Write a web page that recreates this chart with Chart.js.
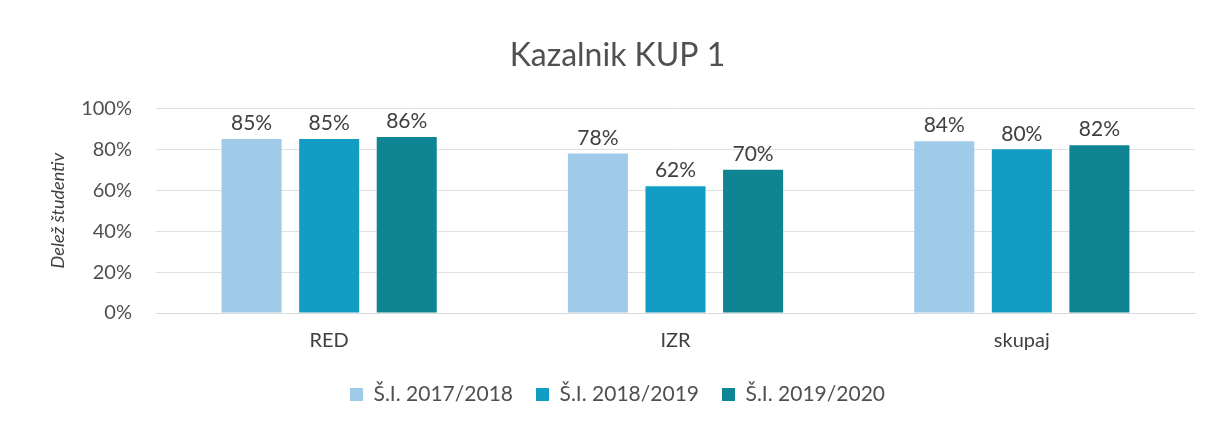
<!DOCTYPE html>
<html>
<head>
<meta charset="utf-8">
<script src="https://cdn.jsdelivr.net/npm/chart.js@4"></script>
<style>
html,body{margin:0;padding:0;background:#fff;}
#wrap{position:relative;width:1213px;height:425px;}
</style>
</head>
<body>
<div id="wrap"><canvas id="c" width="1213" height="425"></canvas></div>
<script>
const categories = ["RED", "IZR", "skupaj"];
const seriesNames = ["Š.I. 2017/2018", "Š.I. 2018/2019", "Š.I. 2019/2020"];
const s2017 = [85, 78, 84];
const s2018 = [85, 62, 80];
const s2019 = [86, 70, 82];
const yTicks = [0, 20, 40, 60, 80, 100];
const colors = ["#9fcbe8", "#119dc4", "#0f8492"];

const FONT = "Lato, 'Open Sans', sans-serif";

const labelPlugin = {
  id: 'valLabels',
  afterDatasetsDraw(chart) {
    const ctx = chart.ctx;
    ctx.save();
    ctx.font = "21px " + FONT;
    ctx.fillStyle = "#404040";
    ctx.textAlign = "center";
    ctx.textBaseline = "bottom";
    chart.data.datasets.forEach((ds, i) => {
      const meta = chart.getDatasetMeta(i);
      meta.data.forEach((bar, j) => {
        ctx.fillText(ds.data[j] + "%", bar.x, bar.y - 5);
      });
    });
    ctx.restore();
  }
};

new Chart(document.getElementById('c'), {
  type: 'bar',
  data: {
    labels: categories,
    datasets: [
      { label: seriesNames[0], data: s2017, backgroundColor: colors[0] },
      { label: seriesNames[1], data: s2018, backgroundColor: colors[1] },
      { label: seriesNames[2], data: s2019, backgroundColor: colors[2] }
    ]
  },
  options: {
    responsive: false,
    animation: false,
    layout: { padding: { left: 40, right: 18, top: 20, bottom: 10 } },
    datasets: { bar: { categoryPercentage: 0.672, barPercentage: 0.774 } },
    plugins: {
      title: {
        display: true,
        text: "Kazalnik KUP 1",
        color: "#505050",
        font: { family: FONT, size: 32, weight: 'normal' },
        padding: { top: 16, bottom: 34 }
      },
      legend: {
        position: 'bottom',
        labels: {
          color: "#505050",
          font: { family: FONT, size: 21 },
          boxWidth: 13, boxHeight: 13,
          padding: 23
        }
      },
      tooltip: { enabled: false }
    },
    scales: {
      x: {
        grid: { display: false },
        border: { display: true, color: "#d9d9d9" },
        ticks: { color: "#404040", font: { family: FONT, size: 20 }, padding: 8 }
      },
      y: {
        min: 0, max: 100,
        afterBuildTicks(axis) { axis.ticks = yTicks.map(v => ({ value: v })); },
        afterFit(axis) { axis.width = 116; },
        grid: { color: "#e0e0e0", drawTicks: false },
        border: { display: false },
        ticks: { color: "#505050", font: { family: FONT, size: 20 }, padding: 24,
                 callback: v => v + "%" },
        title: { display: true, text: "Delež študentiv", color: "#404040",
                 font: { family: FONT, size: 18, style: 'italic' }, padding: { top: 7, bottom: 0 } }
      }
    }
  },
  plugins: [labelPlugin]
});
</script>
</body>
</html>
